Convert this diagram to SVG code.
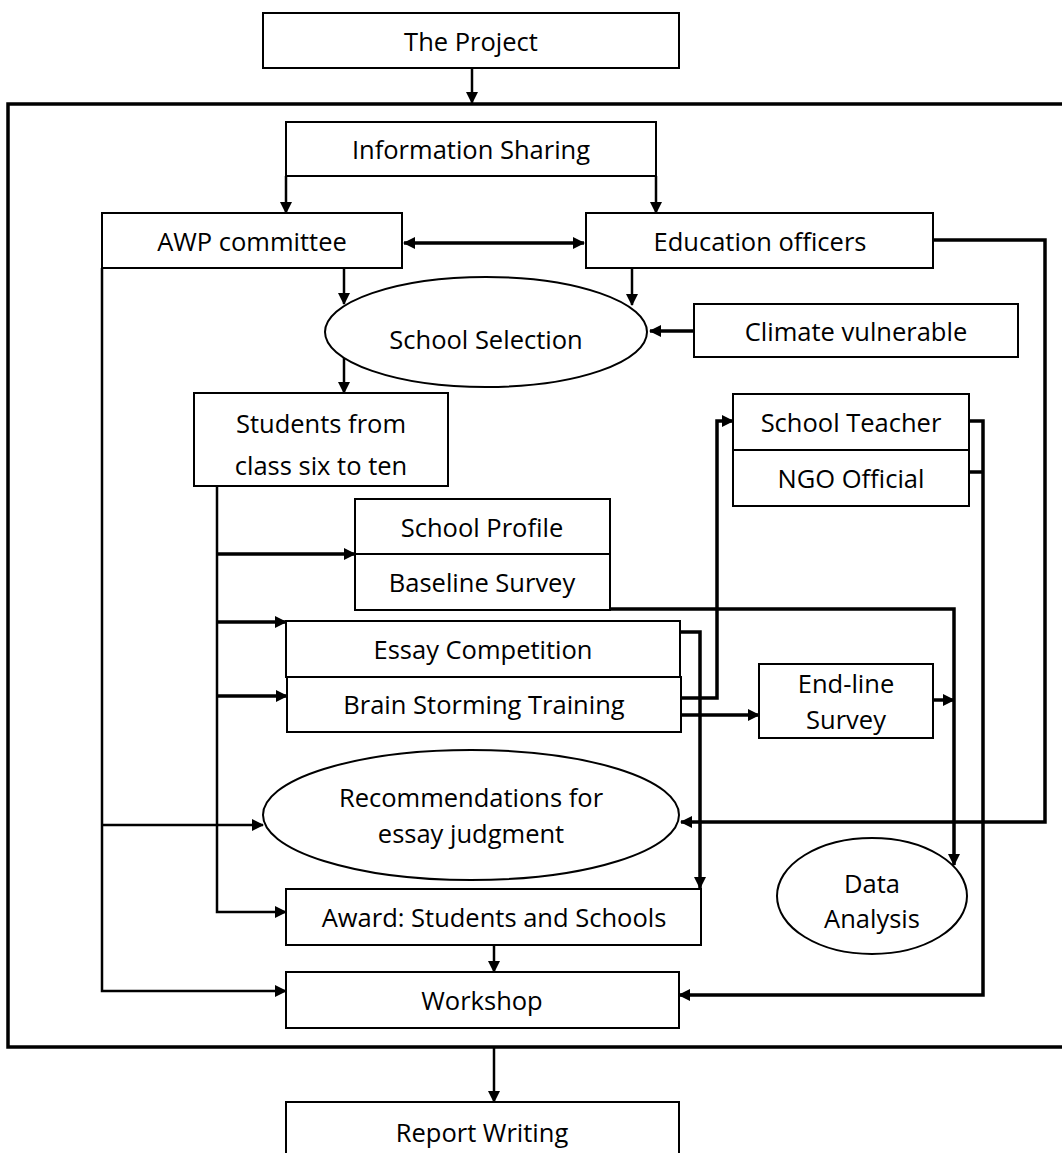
<svg xmlns="http://www.w3.org/2000/svg" width="1062" height="1153" viewBox="0 0 1062 1153">
<style>
.box{fill:#fff;stroke:#000;stroke-width:2}
.t{font-family:"Open Sans","Liberation Sans",sans-serif;font-size:25.5px;fill:#000;text-anchor:middle;dominant-baseline:central}
.c{fill:none;stroke:#000;stroke-width:3.5}
.th{fill:none;stroke:#000;stroke-width:2.5}
</style>
<defs>
<marker id="a" markerUnits="userSpaceOnUse" markerWidth="12" markerHeight="12" refX="11" refY="6" orient="auto-start-reverse">
<path d="M0,0 L12,6 L0,12 z" fill="#000"/>
</marker>
</defs>
<rect x="0" y="0" width="1062" height="1153" fill="#fff"/>
<rect x="8" y="104" width="1070" height="943" fill="none" stroke="#000" stroke-width="3.5"/>

<g id="connectors">
<path class="th" d="M472,68 V103" marker-end="url(#a)"/>
<path class="th" d="M286,176 V213" marker-end="url(#a)"/>
<path class="th" d="M656,176 V213" marker-end="url(#a)"/>
<path class="c" d="M404,243 H584" marker-start="url(#a)" marker-end="url(#a)"/>
<path class="th" d="M344,268 V304" marker-end="url(#a)"/>
<path class="th" d="M632,268 V305" marker-end="url(#a)"/>
<path class="c" d="M694,331 H650" marker-end="url(#a)"/>
<path class="th" d="M344,358 V393" marker-end="url(#a)"/>
<path class="c" d="M933,240 H1045 V822 H681" marker-end="url(#a)"/>
<path class="th" d="M217,486 V912 H286" marker-end="url(#a)"/>
<path class="c" d="M217,554 H355" marker-end="url(#a)"/>
<path class="c" d="M217,622 H286" marker-end="url(#a)"/>
<path class="c" d="M217,696 H287" marker-end="url(#a)"/>
<path class="th" d="M102,268 V991 H286" marker-end="url(#a)"/>
<path class="th" d="M102,825 H263" marker-end="url(#a)"/>
<path class="c" d="M610,609 H954 V865" marker-end="url(#a)"/>
<path class="c" d="M680,632 H700 V888" marker-end="url(#a)"/>
<path class="c" d="M681,698 H717 V421 H733" marker-end="url(#a)"/>
<path class="c" d="M681,715 H759" marker-end="url(#a)"/>
<path class="c" d="M933,700 H954" marker-end="url(#a)"/>
<path class="c" d="M969,421 H983 V995 H679" marker-end="url(#a)"/>
<path class="c" d="M969,472 H983"/>
<path class="th" d="M494,945 V972" marker-end="url(#a)"/>
<path class="th" d="M494,1048 V1102" marker-end="url(#a)"/>
</g>

<g id="n-project"><rect class="box" x="263" y="13" width="416" height="55"/><text class="t" x="471" y="41">The Project</text></g>
<g id="n-info"><rect class="box" x="286" y="122" width="370" height="54"/><text class="t" x="471" y="149">Information Sharing</text></g>
<g id="n-awp"><rect class="box" x="102" y="213" width="300" height="55"/><text class="t" x="252" y="241">AWP committee</text></g>
<g id="n-edu"><rect class="box" x="586" y="213" width="347" height="55"/><text class="t" x="760" y="241">Education officers</text></g>
<g id="n-select"><ellipse class="box" cx="486" cy="332" rx="161" ry="55"/><text class="t" x="486" y="339">School Selection</text></g>
<g id="n-climate"><rect class="box" x="694" y="304" width="324" height="53"/><text class="t" x="856" y="331">Climate vulnerable</text></g>
<g id="n-students"><rect class="box" x="194" y="393" width="254" height="93"/><text class="t" x="321" y="423">Students from</text><text class="t" x="321" y="465">class six to ten</text></g>
<g id="n-teacher"><rect class="box" x="733" y="394" width="236" height="56"/><text class="t" x="851" y="422">School Teacher</text></g>
<g id="n-ngo"><rect class="box" x="733" y="450" width="236" height="56"/><text class="t" x="851" y="478">NGO Official</text></g>
<g id="n-profile"><rect class="box" x="355" y="499" width="255" height="55"/><text class="t" x="482" y="527">School Profile</text></g>
<g id="n-baseline"><rect class="box" x="355" y="554" width="255" height="56"/><text class="t" x="482" y="582">Baseline Survey</text></g>
<g id="n-essay"><rect class="box" x="286" y="621" width="394" height="56"/><text class="t" x="483" y="649">Essay Competition</text></g>
<g id="n-brain"><rect class="box" x="287" y="677" width="394" height="55"/><text class="t" x="484" y="704">Brain Storming Training</text></g>
<g id="n-endline"><rect class="box" x="759" y="664" width="174" height="74"/><text class="t" x="846" y="683">End-line</text><text class="t" x="846" y="719">Survey</text></g>
<g id="n-recommend"><ellipse class="box" cx="471" cy="815" rx="208" ry="65"/><text class="t" x="471" y="797">Recommendations for</text><text class="t" x="471" y="833">essay judgment</text></g>
<g id="n-data"><ellipse class="box" cx="872" cy="896" rx="95" ry="58"/><text class="t" x="872" y="883">Data</text><text class="t" x="872" y="918">Analysis</text></g>
<g id="n-award"><rect class="box" x="286" y="889" width="415" height="56"/><text class="t" x="494" y="917">Award: Students and Schools</text></g>
<g id="n-workshop"><rect class="box" x="286" y="972" width="393" height="56"/><text class="t" x="482" y="1000">Workshop</text></g>
<g id="n-report"><rect class="box" x="286" y="1102" width="393" height="60"/><text class="t" x="482" y="1132">Report Writing</text></g>
</svg>
